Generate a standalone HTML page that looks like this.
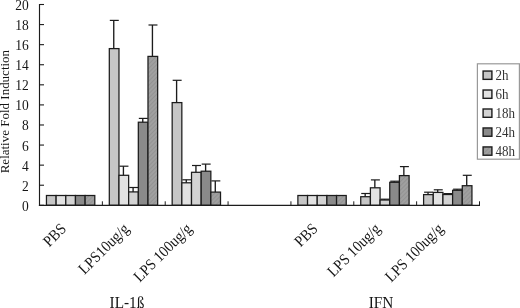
<!DOCTYPE html><html><head><meta charset="utf-8"><style>html,body{margin:0;padding:0;background:#fff;}svg{display:block;filter:grayscale(1) blur(0.3px);}text{font-family:"Liberation Serif",serif;fill:#151515;}</style></head><body>
<svg width="520" height="308" viewBox="0 0 520 308">
<defs><pattern id="hatch" width="3" height="3" patternUnits="userSpaceOnUse" patternTransform="rotate(45)"><rect width="3" height="3" fill="#a0a0a0"/><rect width="1" height="3" fill="#939393"/></pattern></defs>
<rect x="46.45" y="195.50" width="9.67" height="9.80" fill="#c6c6c6" stroke="#1c1c1c" stroke-width="1.25"/>
<rect x="56.12" y="195.50" width="9.67" height="9.80" fill="#e2e2e2" stroke="#1c1c1c" stroke-width="1.25"/>
<rect x="65.79" y="195.50" width="9.67" height="9.80" fill="#d3d3d3" stroke="#1c1c1c" stroke-width="1.25"/>
<rect x="75.46" y="195.50" width="9.67" height="9.80" fill="#8a8a8a" stroke="#1c1c1c" stroke-width="1.25"/>
<rect x="85.13" y="195.50" width="9.67" height="9.80" fill="url(#hatch)" stroke="#1c1c1c" stroke-width="1.25"/>
<rect x="109.31" y="48.60" width="9.67" height="156.70" fill="#c6c6c6" stroke="#1c1c1c" stroke-width="1.25"/>
<line x1="113.75" y1="20.40" x2="113.75" y2="48.60" stroke="#1c1c1c" stroke-width="1.35"/>
<line x1="109.81" y1="20.40" x2="118.78" y2="20.40" stroke="#1c1c1c" stroke-width="1.2"/>
<rect x="118.98" y="175.30" width="9.67" height="30.00" fill="#e2e2e2" stroke="#1c1c1c" stroke-width="1.25"/>
<line x1="123.42" y1="166.20" x2="123.42" y2="175.30" stroke="#1c1c1c" stroke-width="1.35"/>
<line x1="119.48" y1="166.20" x2="128.45" y2="166.20" stroke="#1c1c1c" stroke-width="1.2"/>
<rect x="128.65" y="191.90" width="9.67" height="13.40" fill="#d3d3d3" stroke="#1c1c1c" stroke-width="1.25"/>
<line x1="133.09" y1="187.50" x2="133.09" y2="191.90" stroke="#1c1c1c" stroke-width="1.35"/>
<line x1="129.15" y1="187.50" x2="138.12" y2="187.50" stroke="#1c1c1c" stroke-width="1.2"/>
<rect x="138.32" y="122.20" width="9.67" height="83.10" fill="#8a8a8a" stroke="#1c1c1c" stroke-width="1.25"/>
<line x1="142.76" y1="118.40" x2="142.76" y2="122.20" stroke="#1c1c1c" stroke-width="1.35"/>
<line x1="138.82" y1="118.40" x2="147.79" y2="118.40" stroke="#1c1c1c" stroke-width="1.2"/>
<rect x="147.99" y="56.40" width="9.67" height="148.90" fill="url(#hatch)" stroke="#1c1c1c" stroke-width="1.25"/>
<line x1="152.43" y1="25.00" x2="152.43" y2="56.40" stroke="#1c1c1c" stroke-width="1.35"/>
<line x1="148.49" y1="25.00" x2="157.46" y2="25.00" stroke="#1c1c1c" stroke-width="1.2"/>
<rect x="172.17" y="102.60" width="9.67" height="102.70" fill="#c6c6c6" stroke="#1c1c1c" stroke-width="1.25"/>
<line x1="176.60" y1="80.30" x2="176.60" y2="102.60" stroke="#1c1c1c" stroke-width="1.35"/>
<line x1="172.67" y1="80.30" x2="181.64" y2="80.30" stroke="#1c1c1c" stroke-width="1.2"/>
<rect x="181.84" y="182.80" width="9.67" height="22.50" fill="#e2e2e2" stroke="#1c1c1c" stroke-width="1.25"/>
<line x1="186.27" y1="179.80" x2="186.27" y2="182.80" stroke="#1c1c1c" stroke-width="1.35"/>
<line x1="182.34" y1="179.80" x2="191.31" y2="179.80" stroke="#1c1c1c" stroke-width="1.2"/>
<rect x="191.51" y="172.30" width="9.67" height="33.00" fill="#d3d3d3" stroke="#1c1c1c" stroke-width="1.25"/>
<line x1="195.94" y1="165.50" x2="195.94" y2="172.30" stroke="#1c1c1c" stroke-width="1.35"/>
<line x1="192.01" y1="165.50" x2="200.98" y2="165.50" stroke="#1c1c1c" stroke-width="1.2"/>
<rect x="201.18" y="171.20" width="9.67" height="34.10" fill="#8a8a8a" stroke="#1c1c1c" stroke-width="1.25"/>
<line x1="205.61" y1="164.10" x2="205.61" y2="171.20" stroke="#1c1c1c" stroke-width="1.35"/>
<line x1="201.68" y1="164.10" x2="210.65" y2="164.10" stroke="#1c1c1c" stroke-width="1.2"/>
<rect x="210.85" y="192.10" width="9.67" height="13.20" fill="url(#hatch)" stroke="#1c1c1c" stroke-width="1.25"/>
<line x1="215.28" y1="180.90" x2="215.28" y2="192.10" stroke="#1c1c1c" stroke-width="1.35"/>
<line x1="211.35" y1="180.90" x2="220.32" y2="180.90" stroke="#1c1c1c" stroke-width="1.2"/>
<rect x="297.88" y="195.50" width="9.67" height="9.80" fill="#c6c6c6" stroke="#1c1c1c" stroke-width="1.25"/>
<rect x="307.55" y="195.50" width="9.67" height="9.80" fill="#e2e2e2" stroke="#1c1c1c" stroke-width="1.25"/>
<rect x="317.22" y="195.50" width="9.67" height="9.80" fill="#d3d3d3" stroke="#1c1c1c" stroke-width="1.25"/>
<rect x="326.89" y="195.50" width="9.67" height="9.80" fill="#8a8a8a" stroke="#1c1c1c" stroke-width="1.25"/>
<rect x="336.56" y="195.50" width="9.67" height="9.80" fill="url(#hatch)" stroke="#1c1c1c" stroke-width="1.25"/>
<rect x="360.74" y="196.70" width="9.67" height="8.60" fill="#c6c6c6" stroke="#1c1c1c" stroke-width="1.25"/>
<line x1="365.17" y1="193.50" x2="365.17" y2="196.70" stroke="#1c1c1c" stroke-width="1.35"/>
<line x1="361.24" y1="193.50" x2="370.21" y2="193.50" stroke="#1c1c1c" stroke-width="1.2"/>
<rect x="370.41" y="187.80" width="9.67" height="17.50" fill="#e2e2e2" stroke="#1c1c1c" stroke-width="1.25"/>
<line x1="374.84" y1="179.90" x2="374.84" y2="187.80" stroke="#1c1c1c" stroke-width="1.35"/>
<line x1="370.91" y1="179.90" x2="379.88" y2="179.90" stroke="#1c1c1c" stroke-width="1.2"/>
<rect x="380.08" y="200.00" width="9.67" height="5.30" fill="#d3d3d3" stroke="#1c1c1c" stroke-width="1.25"/>
<line x1="384.51" y1="199.20" x2="384.51" y2="200.00" stroke="#1c1c1c" stroke-width="1.35"/>
<line x1="380.58" y1="199.20" x2="389.55" y2="199.20" stroke="#1c1c1c" stroke-width="1.2"/>
<rect x="389.75" y="182.30" width="9.67" height="23.00" fill="#8a8a8a" stroke="#1c1c1c" stroke-width="1.25"/>
<line x1="394.18" y1="181.20" x2="394.18" y2="182.30" stroke="#1c1c1c" stroke-width="1.35"/>
<line x1="390.25" y1="181.20" x2="399.22" y2="181.20" stroke="#1c1c1c" stroke-width="1.2"/>
<rect x="399.42" y="175.60" width="9.67" height="29.70" fill="url(#hatch)" stroke="#1c1c1c" stroke-width="1.25"/>
<line x1="403.85" y1="166.60" x2="403.85" y2="175.60" stroke="#1c1c1c" stroke-width="1.35"/>
<line x1="399.92" y1="166.60" x2="408.89" y2="166.60" stroke="#1c1c1c" stroke-width="1.2"/>
<rect x="423.60" y="194.60" width="9.67" height="10.70" fill="#c6c6c6" stroke="#1c1c1c" stroke-width="1.25"/>
<line x1="428.03" y1="192.20" x2="428.03" y2="194.60" stroke="#1c1c1c" stroke-width="1.35"/>
<line x1="424.10" y1="192.20" x2="433.07" y2="192.20" stroke="#1c1c1c" stroke-width="1.2"/>
<rect x="433.27" y="192.40" width="9.67" height="12.90" fill="#e2e2e2" stroke="#1c1c1c" stroke-width="1.25"/>
<line x1="437.70" y1="189.80" x2="437.70" y2="192.40" stroke="#1c1c1c" stroke-width="1.35"/>
<line x1="433.77" y1="189.80" x2="442.74" y2="189.80" stroke="#1c1c1c" stroke-width="1.2"/>
<rect x="442.94" y="194.50" width="9.67" height="10.80" fill="#d3d3d3" stroke="#1c1c1c" stroke-width="1.25"/>
<line x1="447.37" y1="193.60" x2="447.37" y2="194.50" stroke="#1c1c1c" stroke-width="1.35"/>
<line x1="443.44" y1="193.60" x2="452.41" y2="193.60" stroke="#1c1c1c" stroke-width="1.2"/>
<rect x="452.61" y="190.30" width="9.67" height="15.00" fill="#8a8a8a" stroke="#1c1c1c" stroke-width="1.25"/>
<line x1="457.04" y1="189.20" x2="457.04" y2="190.30" stroke="#1c1c1c" stroke-width="1.35"/>
<line x1="453.11" y1="189.20" x2="462.08" y2="189.20" stroke="#1c1c1c" stroke-width="1.2"/>
<rect x="462.28" y="185.70" width="9.67" height="19.60" fill="url(#hatch)" stroke="#1c1c1c" stroke-width="1.25"/>
<line x1="466.71" y1="175.30" x2="466.71" y2="185.70" stroke="#1c1c1c" stroke-width="1.35"/>
<line x1="462.78" y1="175.30" x2="471.75" y2="175.30" stroke="#1c1c1c" stroke-width="1.2"/>
<line x1="39.5" y1="4" x2="39.5" y2="205.9" stroke="#1c1c1c" stroke-width="1.15"/>
<line x1="38.9" y1="205.3" x2="480" y2="205.3" stroke="#1c1c1c" stroke-width="1.15"/>
<line x1="39.5" y1="205.30" x2="44" y2="205.30" stroke="#1c1c1c" stroke-width="1.1"/>
<text transform="translate(28.8,210.75) scale(1,1.08)" font-size="13.5" text-anchor="end">0</text>
<line x1="39.5" y1="185.22" x2="44" y2="185.22" stroke="#1c1c1c" stroke-width="1.1"/>
<text transform="translate(28.8,190.67) scale(1,1.08)" font-size="13.5" text-anchor="end">2</text>
<line x1="39.5" y1="165.14" x2="44" y2="165.14" stroke="#1c1c1c" stroke-width="1.1"/>
<text transform="translate(28.8,170.59) scale(1,1.08)" font-size="13.5" text-anchor="end">4</text>
<line x1="39.5" y1="145.06" x2="44" y2="145.06" stroke="#1c1c1c" stroke-width="1.1"/>
<text transform="translate(28.8,150.51) scale(1,1.08)" font-size="13.5" text-anchor="end">6</text>
<line x1="39.5" y1="124.98" x2="44" y2="124.98" stroke="#1c1c1c" stroke-width="1.1"/>
<text transform="translate(28.8,130.43) scale(1,1.08)" font-size="13.5" text-anchor="end">8</text>
<line x1="39.5" y1="104.90" x2="44" y2="104.90" stroke="#1c1c1c" stroke-width="1.1"/>
<text transform="translate(28.8,110.35) scale(1,1.08)" font-size="13.5" text-anchor="end">10</text>
<line x1="39.5" y1="84.82" x2="44" y2="84.82" stroke="#1c1c1c" stroke-width="1.1"/>
<text transform="translate(28.8,90.27) scale(1,1.08)" font-size="13.5" text-anchor="end">12</text>
<line x1="39.5" y1="64.74" x2="44" y2="64.74" stroke="#1c1c1c" stroke-width="1.1"/>
<text transform="translate(28.8,70.19) scale(1,1.08)" font-size="13.5" text-anchor="end">14</text>
<line x1="39.5" y1="44.66" x2="44" y2="44.66" stroke="#1c1c1c" stroke-width="1.1"/>
<text transform="translate(28.8,50.11) scale(1,1.08)" font-size="13.5" text-anchor="end">16</text>
<line x1="39.5" y1="24.58" x2="44" y2="24.58" stroke="#1c1c1c" stroke-width="1.1"/>
<text transform="translate(28.8,30.03) scale(1,1.08)" font-size="13.5" text-anchor="end">18</text>
<line x1="39.5" y1="4.50" x2="44" y2="4.50" stroke="#1c1c1c" stroke-width="1.1"/>
<text transform="translate(28.8,9.95) scale(1,1.08)" font-size="13.5" text-anchor="end">20</text>
<line x1="102.36" y1="201.3" x2="102.36" y2="205.3" stroke="#1c1c1c" stroke-width="1"/>
<line x1="165.21" y1="201.3" x2="165.21" y2="205.3" stroke="#1c1c1c" stroke-width="1"/>
<line x1="228.07" y1="201.3" x2="228.07" y2="205.3" stroke="#1c1c1c" stroke-width="1"/>
<line x1="290.93" y1="201.3" x2="290.93" y2="205.3" stroke="#1c1c1c" stroke-width="1"/>
<line x1="353.79" y1="201.3" x2="353.79" y2="205.3" stroke="#1c1c1c" stroke-width="1"/>
<line x1="416.64" y1="201.3" x2="416.64" y2="205.3" stroke="#1c1c1c" stroke-width="1"/>
<line x1="479.50" y1="201.3" x2="479.50" y2="205.3" stroke="#1c1c1c" stroke-width="1"/>
<text transform="translate(9,173.3) rotate(-90)" font-size="13.2" textLength="123.4" lengthAdjust="spacingAndGlyphs">Relative Fold Induction</text>
<text transform="translate(67.13,229.6) rotate(-45) scale(1,1.1)" font-size="14.3" text-anchor="end">PBS</text>
<text transform="translate(129.99,229.6) rotate(-45) scale(1,1.1)" font-size="14.3" text-anchor="end">LPS10ug/g</text>
<text transform="translate(192.84,229.6) rotate(-45) scale(1,1.1)" font-size="14.3" text-anchor="end">LPS 100ug/g</text>
<text transform="translate(318.56,229.6) rotate(-45) scale(1,1.1)" font-size="14.3" text-anchor="end">PBS</text>
<text transform="translate(381.41,229.6) rotate(-45) scale(1,1.1)" font-size="14.3" text-anchor="end">LPS 10ug/g</text>
<text transform="translate(444.27,229.6) rotate(-45) scale(1,1.1)" font-size="14.3" text-anchor="end">LPS 100ug/g</text>
<text transform="translate(127,308) scale(1,1.1)" font-size="15.3" text-anchor="middle">IL-1ß</text>
<text transform="translate(381,308) scale(1,1.1)" font-size="15.3" text-anchor="middle">IFN</text>
<rect x="477.4" y="63.8" width="42" height="95.4" fill="#fff" stroke="#999" stroke-width="1.2"/>
<rect x="483.1" y="71.05" width="8.8" height="8.3" fill="#c6c6c6" stroke="#1c1c1c" stroke-width="1.4"/>
<text transform="translate(495.5,79.75) scale(1,1.14)" font-size="13" style="fill:#333">2h</text>
<rect x="483.1" y="90.02" width="8.8" height="8.3" fill="#e2e2e2" stroke="#1c1c1c" stroke-width="1.4"/>
<text transform="translate(495.5,98.72) scale(1,1.14)" font-size="13" style="fill:#333">6h</text>
<rect x="483.1" y="108.99" width="8.8" height="8.3" fill="#d3d3d3" stroke="#1c1c1c" stroke-width="1.4"/>
<text transform="translate(495.5,117.69) scale(1,1.14)" font-size="13" style="fill:#333">18h</text>
<rect x="483.1" y="127.96" width="8.8" height="8.3" fill="#8a8a8a" stroke="#1c1c1c" stroke-width="1.4"/>
<text transform="translate(495.5,136.66) scale(1,1.14)" font-size="13" style="fill:#333">24h</text>
<rect x="483.1" y="146.93" width="8.8" height="8.3" fill="url(#hatch)" stroke="#1c1c1c" stroke-width="1.4"/>
<text transform="translate(495.5,155.63) scale(1,1.14)" font-size="13" style="fill:#333">48h</text>
</svg></body></html>
